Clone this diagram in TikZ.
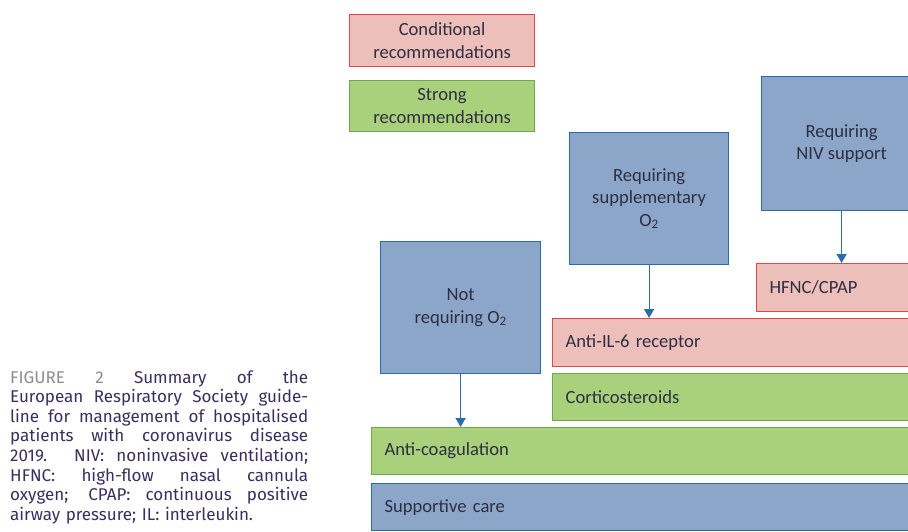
\documentclass[tikz,border=0pt]{standalone}
\usepackage{fontspec}
\setmainfont{Carlito}
\newfontfamily\capfont[WordSpace={1.25,1,1.3}]{Fira Sans}
\usetikzlibrary{arrows.meta}

\definecolor{condfill}{HTML}{EDBFBA}
\definecolor{conddraw}{HTML}{E0474C}
\definecolor{strongfill}{HTML}{A9D17C}
\definecolor{strongdraw}{HTML}{6FA94A}
\definecolor{groupfill}{HTML}{8CA6CA}
\definecolor{groupdraw}{HTML}{2E6CA6}
\definecolor{boxtext}{HTML}{2E2E42}
\definecolor{captext}{HTML}{3A2E5E}
\definecolor{figgray}{HTML}{8C8C8C}

\begin{document}
\begin{tikzpicture}[x=1pt, y=-1pt]

      \tikzset{box/.style={draw, line width=1.2pt, inner sep=0pt, anchor=north west, text=boxtext,
                 font=\fontsize{18.6}{22.5}\selectfont, align=center},
               cond/.style={box, fill=condfill, draw=conddraw},
               strong/.style={box, fill=strongfill, draw=strongdraw},
               group/.style={box, fill=groupfill, draw=groupdraw},
               bar/.style={align=left, inner xsep=13pt, text width=#1-26pt},
               flow/.style={draw=groupdraw, line width=1.2pt, -{Triangle[length=9pt, width=10pt]}}}
      \clip (0,0) rectangle (908,532);

%% Legend
      	\node[cond, minimum width=185pt, minimum height=52pt] (legcond) at (349,14) {Conditional\\recommendations};
      	\node[strong, minimum width=185pt, minimum height=51pt] (legstrong) at (349,80) {Strong\\recommendations};
%% Patient groups
      	\node[group, minimum width=160pt, minimum height=134pt] (niv) at (761,76) {Requiring\\NIV support};
      	\node[group, minimum width=159pt, minimum height=132pt] (suppox) at (569,132) {Requiring\\supplementary\\O\textsubscript{2}};
      	\node[group, minimum width=160pt, minimum height=132pt] (notreq) at (380,241) {Not\\requiring O\textsubscript{2}};
%% Treatments
      	\node[cond, bar=170pt, minimum height=48pt] (hfnc) at (756,263) {HFNC/CPAP};
      	\node[cond, bar=370pt, minimum height=48pt] (antiil) at (552,318) {Anti-IL-6 receptor};
      	\node[strong, bar=370pt, minimum height=47pt] (cortico) at (552,373) {Corticosteroids};
      	\node[strong, bar=550pt, minimum height=47pt] (anticoag) at (371,427) {Anti-coagulation};
      	\node[group, bar=550pt, minimum height=47pt] (support) at (371,483) {Supportive care};
%% Arrows
		\path[flow] (niv.south) -- (niv.south |- hfnc.north);
		\path[flow] (suppox.south) -- (suppox.south |- antiil.north);
		\path[flow] (notreq.south) -- (notreq.south |- anticoag.north);
%% Caption
		\node[anchor=base west, inner sep=0pt, text width=298pt, align=justify, text=captext,
		      font=\capfont\fontsize{17}{19.6}\selectfont] (caption) at (10,383)
		     {{\color{figgray}FIGURE 2} Summary of the\linebreak
		      European Respiratory Society guide-\linebreak
		      line for management of hospitalised\linebreak
		      patients with coronavirus disease\linebreak
		      2019. NIV: noninvasive ventilation;\linebreak
		      HFNC: high-flow nasal cannula\linebreak
		      oxygen; CPAP: continuous positive\linebreak
		      airway pressure; IL: interleukin.};

	\end{tikzpicture}
\end{document}
